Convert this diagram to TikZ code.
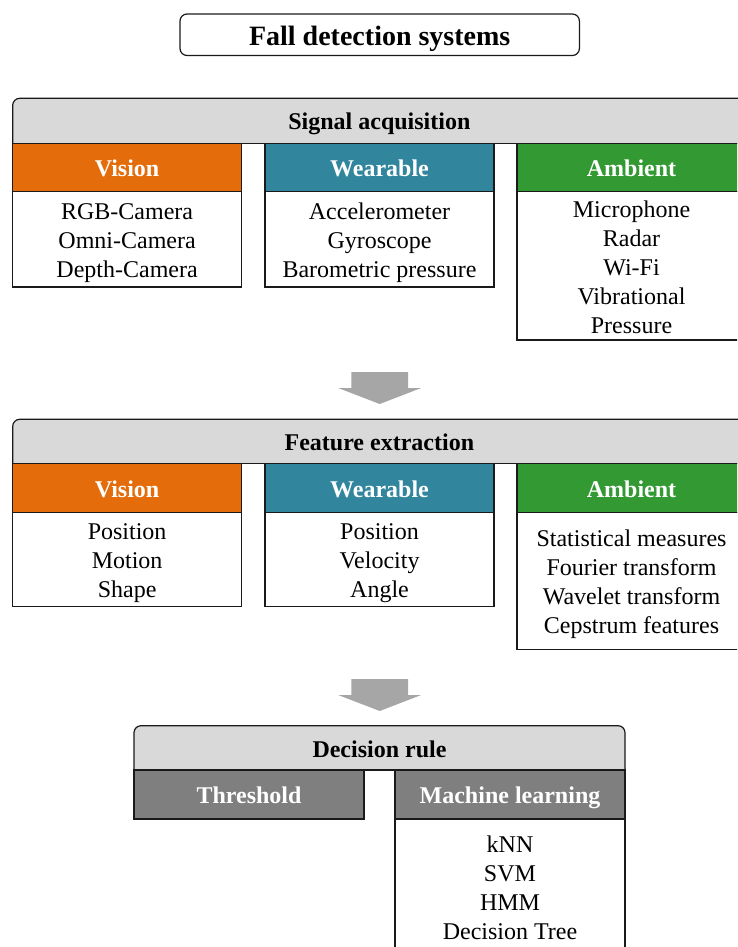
\documentclass[tikz,border=0pt]{standalone}
\usepackage{fontspec}
\setmainfont{Liberation Serif}
\usetikzlibrary{backgrounds}
\definecolor{cOrange}{HTML}{E46C0A}
\definecolor{cTeal}{HTML}{31859C}
\definecolor{cGreen}{HTML}{339933}
\definecolor{cHdr}{HTML}{D9D9D9}
\definecolor{cDark}{HTML}{7F7F7F}
\definecolor{cArrow}{HTML}{A6A6A6}
\definecolor{cLine}{HTML}{1A1A1A}
\newcommand\sx{\rule[-5pt]{0pt}{28.5pt}}
\newcommand\st{\rule[-6pt]{0pt}{33pt}}
\begin{document}
\begin{tikzpicture}[x=1pt,y=-1pt,
  line/.style={draw=cLine, line width=1.2pt},
  sz/.style 2 args={minimum width=#1pt, minimum height=#2pt},
  cell/.style={line, anchor=north west, inner sep=0pt, outer sep=0pt, align=center, font=\fontsize{24}{29}\selectfont},
  cat/.style={cell, text=white, font=\fontsize{24}{29}\selectfont\bfseries},
  hdr/.style={anchor=north west, inner sep=0pt, outer sep=0pt, font=\fontsize{24}{29}\selectfont\bfseries},
  hdrshape/.style={fill=cHdr, line, rounded corners=7pt},
  downarrow/.pic={\fill[cArrow] (-28.3,0) -- (28.3,0) -- (28.3,16) -- (41.5,16) -- (0,32) -- (-41.5,16) -- (-28.3,16) -- cycle;}
]
\useasboundingbox (0,0) rectangle (737,947);
\clip (0,0) rectangle (737,947);

% title
\node[cell, sz={399.4}{41.5}, rounded corners=7pt, font=\fontsize{28}{33}\selectfont\bfseries] (title) at (180,14) {\st Fall detection systems};

% ---- Signal acquisition
\node[hdr, sz={733.3}{45}] (sa) at (12.7,98.3) {\sx Signal acquisition};
\begin{scope}[on background layer]
\path[hdrshape] (sa.south west) -- (sa.north west) -- (sa.north east) -- (sa.south east);
\end{scope}
\draw[line] (sa.south west) -- (sa.south east);
\node[cat, fill=cOrange, sz={228.8}{48.4}] (v1) at (12.7,143.3) {\sx Vision};
\node[cat, fill=cTeal, sz={229}{48.4}] (w1) at (265,143.3) {\sx Wearable};
\node[cat, fill=cGreen, sz={229}{48.4}] (m1) at (517,143.3) {\sx Ambient};
\node[cell, sz={228.8}{95.3}] (v1c) at (12.7,191.7) {\sx RGB-Camera\\\sx Omni-Camera\\\sx Depth-Camera};
\node[cell, sz={229}{95.3}] (w1c) at (265,191.7) {\sx Accelerometer\\\sx Gyroscope\\\sx Barometric pressure};
\node[cell, sz={229}{148.3}] (m1c) at (517,191.7) {\sx Microphone\\\sx Radar\\\sx Wi-Fi\\\sx Vibrational\\\sx Pressure};

\pic at (379.7,372) {downarrow};

% ---- Feature extraction
\node[hdr, sz={733.3}{44}] (fe) at (12.7,419.3) {\sx Feature extraction};
\begin{scope}[on background layer]
\path[hdrshape] (fe.south west) -- (fe.north west) -- (fe.north east) -- (fe.south east);
\end{scope}
\draw[line] (fe.south west) -- (fe.south east);
\node[cat, fill=cOrange, sz={228.8}{49.4}] (v2) at (12.7,463.3) {\sx Vision};
\node[cat, fill=cTeal, sz={229}{49.4}] (w2) at (265,463.3) {\sx Wearable};
\node[cat, fill=cGreen, sz={229}{49.4}] (m2) at (517,463.3) {\sx Ambient};
\node[cell, sz={228.8}{94}] (v2c) at (12.7,512.7) {\sx Position\\\sx Motion\\\sx Shape};
\node[cell, sz={229}{94}] (w2c) at (265,512.7) {\sx Position\\\sx Velocity\\\sx Angle};
\node[cell, sz={229}{136.6}] (m2c) at (517,512.7) {\sx Statistical measures\\\sx Fourier transform\\\sx Wavelet transform\\\sx Cepstrum features};

\pic at (379.7,679) {downarrow};

% ---- Decision rule
\node[hdr, sz={491}{44.3}] (dr) at (134,725.7) {\sx Decision rule};
\begin{scope}[on background layer]
\path[hdrshape] (dr.south west) -- (dr.north west) -- (dr.north east) -- (dr.south east);
\end{scope}
\draw[line] (dr.south west) -- (dr.south east);
\node[cat, fill=cDark, sz={230}{49}] (th) at (134,770) {\sx Threshold};
\node[cat, fill=cDark, sz={230}{49}] (ml) at (395,770) {\sx Machine learning};
\node[cell, sz={230}{136}] (mlc) at (395,819) {\sx kNN\\\sx SVM\\\sx HMM\\\sx Decision Tree};
\end{tikzpicture}
\end{document}
